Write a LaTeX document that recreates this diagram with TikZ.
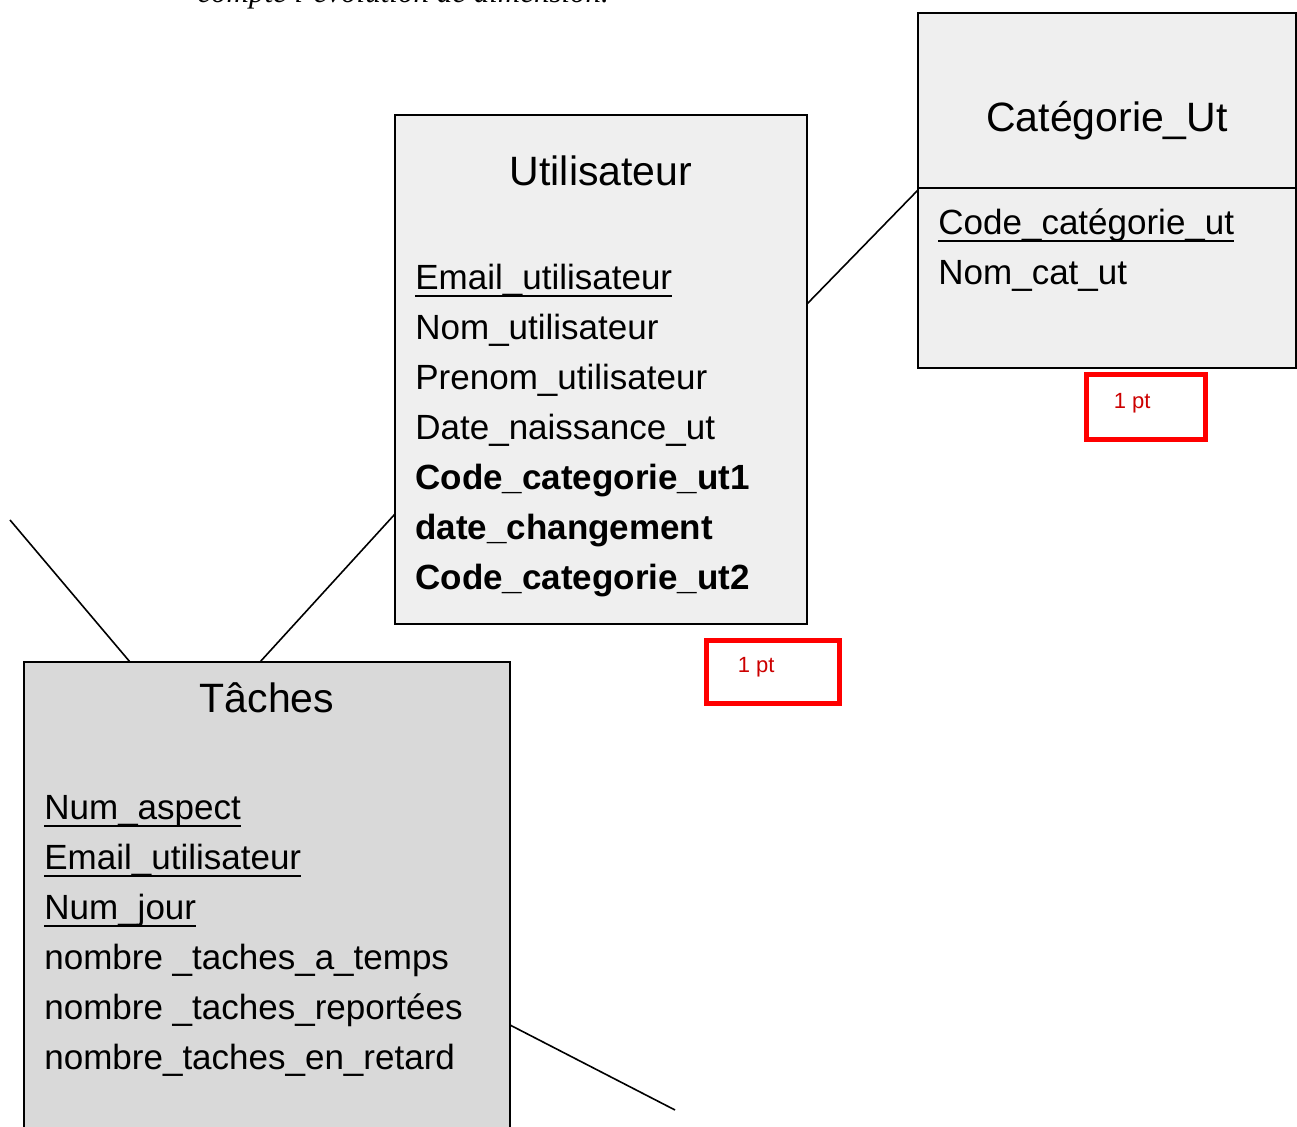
\documentclass[tikz,border=0pt]{standalone}
\usepackage{fontspec}
\setmainfont{Liberation Sans}
\newfontfamily\serifit{Liberation Serif}
\usetikzlibrary{calc}
\definecolor{boxgray}{HTML}{EFEFEF}
\definecolor{taskgray}{HTML}{D9D9D9}
\definecolor{notered}{HTML}{CC0000}
% key attribute: underlined at the level of the underscores
\newcommand{\keyattr}[1]{\setbox0\hbox{#1}\rlap{\rule[-3.5pt]{\wd0}{1pt}}\box0}
\tikzset{
  entity/.style={draw,line width=1pt,anchor=north west,inner sep=0pt,outer sep=0pt},
  title/.style={anchor=base,inner sep=0pt,font=\fontsize{20.5}{24}\selectfont},
  attr/.style={anchor=base west,inner sep=0pt,font=\fontsize{17.5}{21}\selectfont},
  link/.style={line width=0.8pt},
  mark box/.style={draw=red,line width=2.5pt,anchor=north west,inner sep=0pt,outer sep=0pt},
  mark text/.style={anchor=base west,inner sep=0pt,text=notered,font=\fontsize{11}{13}\selectfont}
}
\begin{document}
\begin{tikzpicture}[x=0.5pt,y=0.5pt]
    \useasboundingbox (0,0) rectangle (1297,-1127);
    \clip (0,0) rectangle (1297,-1127);
    \node[anchor=base west,inner sep=0pt,font=\serifit\itshape\fontsize{15.5}{18}\selectfont] (intro) at (197,-3) {compte l’évolution de dimension.};
    % entities
    \node[entity,fill=boxgray,minimum width=206pt,minimum height=254.5pt] (util) at (395,-115) {};
    \node[entity,fill=boxgray,minimum width=189pt,minimum height=177.5pt] (cat) at (918,-13) {};
    \node[entity,fill=taskgray,minimum width=243pt,minimum height=250pt] (task) at (24,-662) {};
    \draw[line width=1pt] ($(cat.north west)+(0,-175)$) -- ($(cat.north east)+(0,-175)$);
    % titles
    \node[title] (util-t) at ($(util.north)+(0,-71)$) {Utilisateur};
    \node[title] (cat-t) at ($(cat.north)+(0,-119)$) {Catégorie\_Ut};
    \node[title] (task-t) at ($(task.north)+(0,-51)$) {Tâches};
    % attributes
    \foreach \txt [count=\i] in {\keyattr{Email\_utilisateur},Nom\_utilisateur,Prenom\_utilisateur,Date\_naissance\_ut,\textbf{Code\_categorie\_ut1},\textbf{date\_changement},\textbf{Code\_categorie\_ut2}}
        \node[attr] (util-\i) at ($(util.north west)+(20,-125-50*\i)$) {\txt};
    \foreach \txt [count=\i] in {\keyattr{Code\_catégorie\_ut},Nom\_cat\_ut}
        \node[attr] (cat-\i) at ($(cat.north west)+(20,-172-50*\i)$) {\txt};
    \foreach \txt [count=\i] in {\keyattr{Num\_aspect},\keyattr{Email\_utilisateur},\keyattr{Num\_jour},nombre \_taches\_a\_temps,nombre \_taches\_reportées,nombre\_taches\_en\_retard}
        \node[attr] (task-\i) at ($(task.north west)+(20,-108-50*\i)$) {\txt};
    % links
    \coordinate (ue) at ($(util.north east)+(0,-189)$);
    \coordinate (uw) at ($(util.north west)+(0,-399)$);
    \coordinate (cw) at ($(cat.north west)+(0,-177)$);
    \coordinate (tn1) at ($(task.north west)+(106,0)$);
    \coordinate (tn2) at ($(task.north west)+(236,0)$);
    \coordinate (te) at ($(task.north east)+(0,-363)$);
    \coordinate (off1) at (10,-520);
    \coordinate (off2) at (675,-1110);
    \draw[link] (ue) -- (cw);
    \draw[link] (uw) -- (tn2);
    \draw[link] (off1) -- (tn1);
    \draw[link] (te) -- (off2);
    % marks
    \node[mark box,minimum width=59.5pt,minimum height=32.5pt] (mark1) at (1086.5,-374.5) {};
    \node[mark text] (mark1-t) at ($(mark1.north west)+(27,-34)$) {1 pt};
    \node[mark box,minimum width=66.5pt,minimum height=31.5pt] (mark2) at (706.5,-640.5) {};
    \node[mark text] (mark2-t) at ($(mark2.north west)+(31,-32)$) {1 pt};
\end{tikzpicture}
\end{document}
